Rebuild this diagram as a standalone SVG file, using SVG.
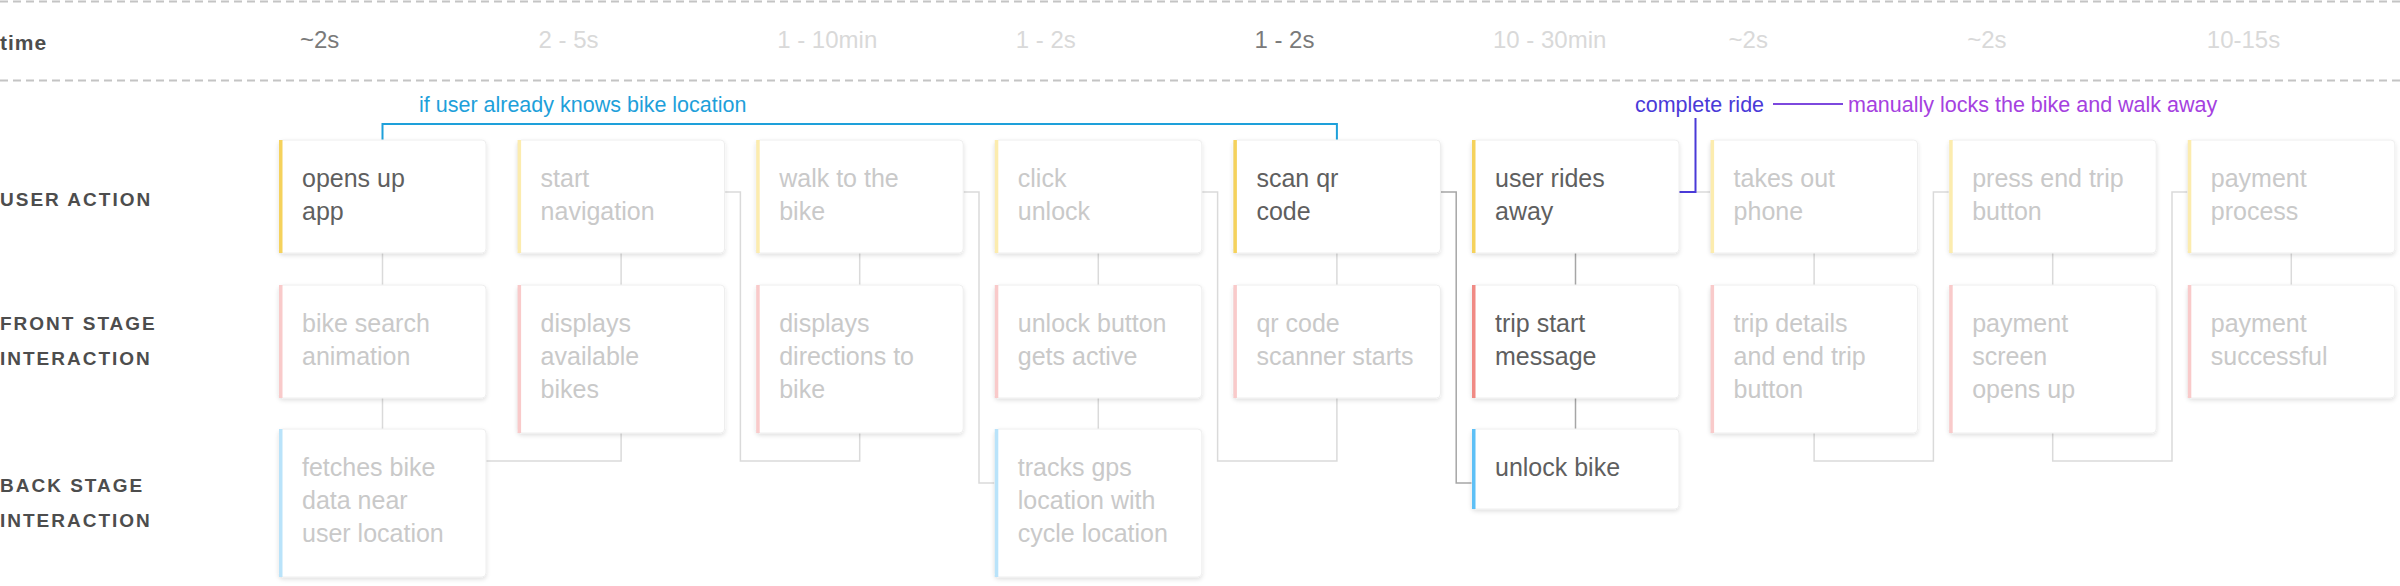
<svg xmlns="http://www.w3.org/2000/svg" width="2400" height="586" viewBox="0 0 2400 586">
<style>
  text { font-family: "Liberation Sans", Arial, sans-serif; }
  .lbl { font-size: 19px; font-weight: bold; fill: #4d4d4d; letter-spacing: 2px; }
  .tm { font-size: 24px; fill: #d9d9d9; }
  .tm.on { fill: #7a7a7a; }
  .card { fill: #ffffff; stroke: #eeeeee; stroke-width: 1; filter: url(#sh); }
  .t { font-size: 25px; fill: #c9c9c9; }
  .on .t { fill: #5f5f5f; }
  .bar-y { fill: #fcecae; }
  .bar-r { fill: #f9caca; }
  .bar-b { fill: #b9e3fa; }
  .on .bar-y { fill: #f5d25c; }
  .on .bar-r { fill: #f08a84; }
  .on .bar-b { fill: #5ec0f6; }
  .cn { fill: none; stroke: #dadada; stroke-width: 1.5; }
  .cn.dk { stroke: #a6a6a6; }
  .dash { stroke: #c4c4c4; stroke-width: 2; stroke-dasharray: 8 5; }
  .ann { font-size: 21.5px; }
</style>
<defs>
  <filter id="sh" x="-10%" y="-10%" width="120%" height="130%">
    <feDropShadow dx="0" dy="2" stdDeviation="2" flood-color="#000" flood-opacity="0.12"/>
  </filter>
</defs>
<rect width="2400" height="586" fill="#ffffff"/>
<line class="dash" x1="0" y1="1.5" x2="2400" y2="1.5"/>
<line class="dash" x1="0" y1="80.5" x2="2400" y2="80.5"/>

<g id="labels">
  <text x="0" y="50" style="font-size:21px;font-weight:bold;fill:#4d4d4d;letter-spacing:1px">time</text>
  <text class="lbl" x="0" y="206">USER ACTION</text>
  <text class="lbl" x="0" y="330">FRONT STAGE</text>
  <text class="lbl" x="0" y="365">INTERACTION</text>
  <text class="lbl" x="0" y="492">BACK STAGE</text>
  <text class="lbl" x="0" y="527">INTERACTION</text>
</g>

<g id="times">
  <text class="tm on" x="300" y="48">~2s</text>
  <text class="tm" x="538.6" y="48">2 - 5s</text>
  <text class="tm" x="777.2" y="48">1 - 10min</text>
  <text class="tm" x="1015.8" y="48">1 - 2s</text>
  <text class="tm on" x="1254.4" y="48">1 - 2s</text>
  <text class="tm" x="1493" y="48">10 - 30min</text>
  <text class="tm" x="1728.6" y="48">~2s</text>
  <text class="tm" x="1967.2" y="48">~2s</text>
  <text class="tm" x="2206.8" y="48">10-15s</text>
</g>

<g id="connectors">
  <path class="cn" d="M382.5 253V285M621.1 253V285M859.7 253V285M1098.3 253V285M1336.9 253V285M1814.1 253V285M2052.7 253V285M2291.3 253V285"/>
  <path class="cn" d="M382.5 398V429M1098.3 398V429"/>
  <path class="cn dk" d="M1575.5 253V285M1575.5 398V429"/>
  <path class="cn" d="M486 461H621.1V433"/>
  <path class="cn" d="M724.6 192H740.4V461H859.7V433"/>
  <path class="cn" d="M963.2 192H979V483H994.8"/>
  <path class="cn" d="M1201.8 192H1217.6V461H1336.9V398"/>
  <path class="cn dk" d="M1440.4 192H1456.2V483H1472"/>
  <path class="cn" d="M1679 192H1710.6"/>
  <path class="cn" d="M1814.1 433V461H1933.4V192H1949.2"/>
  <path class="cn" d="M2052.7 433V461H2172V192H2187.8"/>
  <path fill="none" stroke="#1ea0da" stroke-width="2" d="M382.5 140V124H1336.9V140"/>
  <path fill="none" stroke="#4a3ad8" stroke-width="2" d="M1679 192H1695.5V118"/>
  <path fill="none" stroke="#7d48de" stroke-width="2" d="M1773 104H1843"/>
</g>

<g id="annotations">
  <text class="ann" x="419" y="112" fill="#1ea0da">if user already knows bike location</text>
  <text class="ann" x="1635" y="112" fill="#4a3ad8">complete ride</text>
  <text class="ann" x="1848" y="112" fill="#a541e0">manually locks the bike and walk away</text>
</g>

<!-- row 1: user action -->
<g id="ua0" class="on"><rect class="card" x="279" y="140" width="207" height="113" rx="4"/><rect class="bar-y" x="279" y="140" width="3.5" height="113"/><text class="t" x="302" y="187">opens up</text><text class="t" x="302" y="220">app</text></g>
<g id="ua1"><rect class="card" x="517.6" y="140" width="207" height="113" rx="4"/><rect class="bar-y" x="517.6" y="140" width="3.5" height="113"/><text class="t" x="540.6" y="187">start</text><text class="t" x="540.6" y="220">navigation</text></g>
<g id="ua2"><rect class="card" x="756.2" y="140" width="207" height="113" rx="4"/><rect class="bar-y" x="756.2" y="140" width="3.5" height="113"/><text class="t" x="779.2" y="187">walk to the</text><text class="t" x="779.2" y="220">bike</text></g>
<g id="ua3"><rect class="card" x="994.8" y="140" width="207" height="113" rx="4"/><rect class="bar-y" x="994.8" y="140" width="3.5" height="113"/><text class="t" x="1017.8" y="187">click</text><text class="t" x="1017.8" y="220">unlock</text></g>
<g id="ua4" class="on"><rect class="card" x="1233.4" y="140" width="207" height="113" rx="4"/><rect class="bar-y" x="1233.4" y="140" width="3.5" height="113"/><text class="t" x="1256.4" y="187">scan qr</text><text class="t" x="1256.4" y="220">code</text></g>
<g id="ua5" class="on"><rect class="card" x="1472" y="140" width="207" height="113" rx="4"/><rect class="bar-y" x="1472" y="140" width="3.5" height="113"/><text class="t" x="1495" y="187">user rides</text><text class="t" x="1495" y="220">away</text></g>
<g id="ua6"><rect class="card" x="1710.6" y="140" width="207" height="113" rx="4"/><rect class="bar-y" x="1710.6" y="140" width="3.5" height="113"/><text class="t" x="1733.6" y="187">takes out</text><text class="t" x="1733.6" y="220">phone</text></g>
<g id="ua7"><rect class="card" x="1949.2" y="140" width="207" height="113" rx="4"/><rect class="bar-y" x="1949.2" y="140" width="3.5" height="113"/><text class="t" x="1972.2" y="187">press end trip</text><text class="t" x="1972.2" y="220">button</text></g>
<g id="ua8"><rect class="card" x="2187.8" y="140" width="207" height="113" rx="4"/><rect class="bar-y" x="2187.8" y="140" width="3.5" height="113"/><text class="t" x="2210.8" y="187">payment</text><text class="t" x="2210.8" y="220">process</text></g>

<!-- row 2: front stage -->
<g id="fs0"><rect class="card" x="279" y="285" width="207" height="113" rx="4"/><rect class="bar-r" x="279" y="285" width="3.5" height="113"/><text class="t" x="302" y="332">bike search</text><text class="t" x="302" y="365">animation</text></g>
<g id="fs1"><rect class="card" x="517.6" y="285" width="207" height="148" rx="4"/><rect class="bar-r" x="517.6" y="285" width="3.5" height="148"/><text class="t" x="540.6" y="332">displays</text><text class="t" x="540.6" y="365">available</text><text class="t" x="540.6" y="398">bikes</text></g>
<g id="fs2"><rect class="card" x="756.2" y="285" width="207" height="148" rx="4"/><rect class="bar-r" x="756.2" y="285" width="3.5" height="148"/><text class="t" x="779.2" y="332">displays</text><text class="t" x="779.2" y="365">directions to</text><text class="t" x="779.2" y="398">bike</text></g>
<g id="fs3"><rect class="card" x="994.8" y="285" width="207" height="113" rx="4"/><rect class="bar-r" x="994.8" y="285" width="3.5" height="113"/><text class="t" x="1017.8" y="332">unlock button</text><text class="t" x="1017.8" y="365">gets active</text></g>
<g id="fs4"><rect class="card" x="1233.4" y="285" width="207" height="113" rx="4"/><rect class="bar-r" x="1233.4" y="285" width="3.5" height="113"/><text class="t" x="1256.4" y="332">qr code</text><text class="t" x="1256.4" y="365">scanner starts</text></g>
<g id="fs5" class="on"><rect class="card" x="1472" y="285" width="207" height="113" rx="4"/><rect class="bar-r" x="1472" y="285" width="3.5" height="113"/><text class="t" x="1495" y="332">trip start</text><text class="t" x="1495" y="365">message</text></g>
<g id="fs6"><rect class="card" x="1710.6" y="285" width="207" height="148" rx="4"/><rect class="bar-r" x="1710.6" y="285" width="3.5" height="148"/><text class="t" x="1733.6" y="332">trip details</text><text class="t" x="1733.6" y="365">and end trip</text><text class="t" x="1733.6" y="398">button</text></g>
<g id="fs7"><rect class="card" x="1949.2" y="285" width="207" height="148" rx="4"/><rect class="bar-r" x="1949.2" y="285" width="3.5" height="148"/><text class="t" x="1972.2" y="332">payment</text><text class="t" x="1972.2" y="365">screen</text><text class="t" x="1972.2" y="398">opens up</text></g>
<g id="fs8"><rect class="card" x="2187.8" y="285" width="207" height="113" rx="4"/><rect class="bar-r" x="2187.8" y="285" width="3.5" height="113"/><text class="t" x="2210.8" y="332">payment</text><text class="t" x="2210.8" y="365">successful</text></g>

<!-- row 3: back stage -->
<g id="bs0"><rect class="card" x="279" y="429" width="207" height="148" rx="4"/><rect class="bar-b" x="279" y="429" width="3.5" height="148"/><text class="t" x="302" y="476">fetches bike</text><text class="t" x="302" y="509">data near</text><text class="t" x="302" y="542">user location</text></g>
<g id="bs3"><rect class="card" x="994.8" y="429" width="207" height="148" rx="4"/><rect class="bar-b" x="994.8" y="429" width="3.5" height="148"/><text class="t" x="1017.8" y="476">tracks gps</text><text class="t" x="1017.8" y="509">location with</text><text class="t" x="1017.8" y="542">cycle location</text></g>
<g id="bs5" class="on"><rect class="card" x="1472" y="429" width="207" height="80" rx="4"/><rect class="bar-b" x="1472" y="429" width="3.5" height="80"/><text class="t" x="1495" y="476">unlock bike</text></g>
</svg>
